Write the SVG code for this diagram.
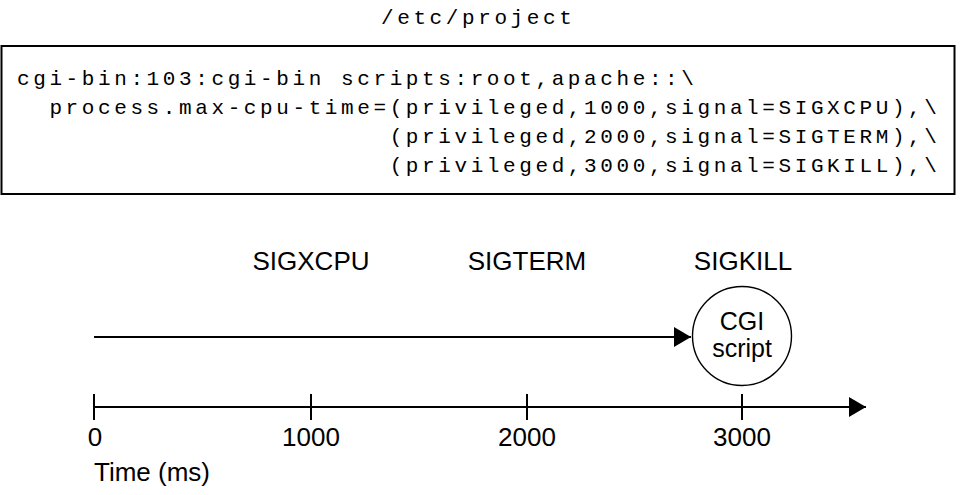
<svg xmlns="http://www.w3.org/2000/svg" width="960" height="495" viewBox="0 0 960 495">
<style>
.mono{font-family:"Liberation Mono","Courier New",monospace;font-size:21px;letter-spacing:3.6px;fill:#000;white-space:pre}
.sans{font-family:"Liberation Sans",Arial,Helvetica,sans-serif;font-size:26px;fill:#000}
.node{font-size:25px}
.mid{text-anchor:middle}
.ln{stroke:#000;stroke-width:2;fill:none}
</style>
<defs>
<marker id="ah" markerUnits="userSpaceOnUse" markerWidth="18" markerHeight="22" refX="17" refY="11" orient="auto">
<path d="M0,1 L17,11 L0,21 Z" fill="#000"/>
</marker>
</defs>
<rect width="960" height="495" fill="#fff"/>
<g id="title"><text class="mono" x="381" y="24">/etc/project</text></g>
<g id="config-box">
<rect x="1.5" y="46" width="953" height="148" fill="#fff" stroke="#000" stroke-width="2"/>
<text class="mono" x="17" y="85">cgi-bin:103:cgi-bin scripts:root,apache::\</text>
<text class="mono" x="17" y="114" xml:space="preserve">  process.max-cpu-time=(privileged,1000,signal=SIGXCPU),\</text>
<text class="mono" x="17" y="143" xml:space="preserve">                       (privileged,2000,signal=SIGTERM),\</text>
<text class="mono" x="17" y="172" xml:space="preserve">                       (privileged,3000,signal=SIGKILL),\</text>
</g>
<g id="signal-labels">
<text class="sans mid" x="311" y="270">SIGXCPU</text>
<text class="sans mid" x="527" y="270">SIGTERM</text>
<text class="sans mid" x="743" y="270">SIGKILL</text>
</g>
<g id="cgi-script">
<circle cx="742" cy="336" r="49.5" fill="#fff" stroke="#000" stroke-width="1.4"/>
<text class="sans node mid" x="742" y="330">CGI</text>
<text class="sans node mid" x="742" y="357">script</text>
</g>
<g id="connectors">
<line class="ln" x1="94" y1="337" x2="691" y2="337" marker-end="url(#ah)"/>
<line class="ln" x1="94" y1="407" x2="866" y2="407" marker-end="url(#ah)"/>
<line class="ln" x1="94" y1="394" x2="94" y2="420"/>
<line class="ln" x1="311" y1="394" x2="311" y2="420"/>
<line class="ln" x1="527" y1="394" x2="527" y2="420"/>
<line class="ln" x1="742" y1="394" x2="742" y2="420"/>
</g>
<g id="axis-labels">
<text class="sans mid" x="95" y="446">0</text>
<text class="sans mid" x="311" y="446">1000</text>
<text class="sans mid" x="527" y="446">2000</text>
<text class="sans mid" x="742" y="446">3000</text>
<text class="sans" x="94" y="481">Time (ms)</text>
</g>
</svg>
